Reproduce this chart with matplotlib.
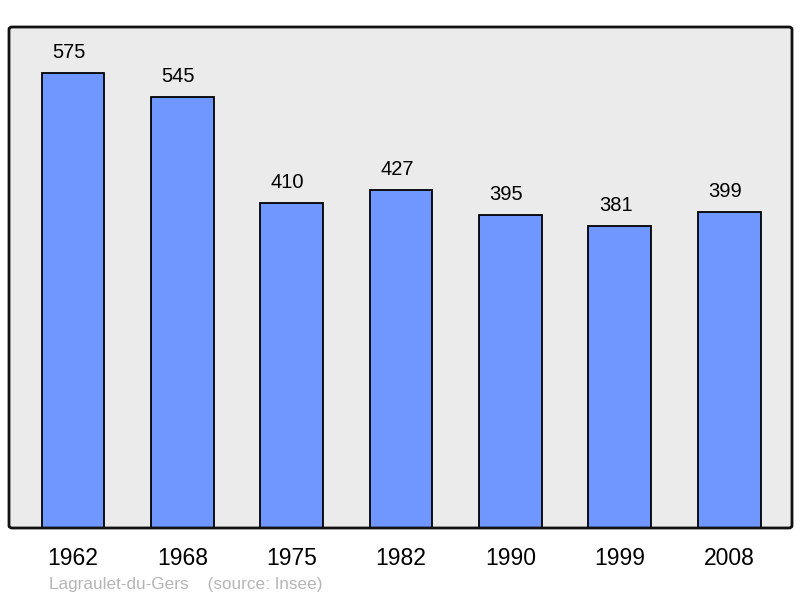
import matplotlib
matplotlib.use("Agg")
import matplotlib.pyplot as plt
from matplotlib.patches import FancyBboxPatch

years = ["1962", "1968", "1975", "1982", "1990", "1999", "2008"]
population = [575, 545, 410, 427, 395, 381, 399]
commune = "Lagraulet-du-Gers"
source = "(source: Insee)"

plt.rcParams["font.family"] = ["Liberation Sans", "DejaVu Sans"]

fig = plt.figure(figsize=(8, 5.98), dpi=100)
W, H = 800, 598
ax = fig.add_axes([9 / W, (H - 528) / H, 783 / W, 501 / H])
ax.set_facecolor("#ebebeb")

xs = list(range(len(years)))
ax.bar(xs, population, width=0.575, color="#7096ff", edgecolor="black", linewidth=1.3, zorder=3)

for x, v in zip(xs, population):
    ax.annotate(str(v), (x, v), xytext=(-3, 10.8), textcoords="offset points",
                ha="center", va="baseline", fontsize=14.5, color="black")

ax.set_xlim(-0.585, 6.575)
ax.set_ylim(0, 633)
ax.set_xticks(xs)
ax.set_xticklabels(years, fontsize=16.5)
ax.tick_params(axis="x", length=0, pad=13.5)
ax.set_yticks([])
for s in ax.spines.values():
    s.set_visible(False)

# rounded frame
frame = FancyBboxPatch((9 / W, (H - 528) / H), 783 / W, 501 / H,
                       boxstyle="round,pad=0,rounding_size=0.004",
                       transform=fig.transFigure, fill=False,
                       edgecolor="#111111", linewidth=2, zorder=5)
fig.patches.append(frame)

fig.text(49 / W, 1 - 584 / H, commune + "    " + source, fontsize=12.3,
         color="#b5b5b5", ha="left", va="center")

fig.savefig("out.png", dpi=100)
